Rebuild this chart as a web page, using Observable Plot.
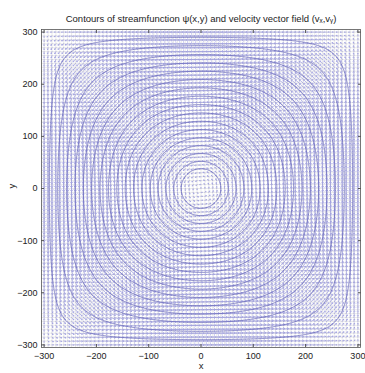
<!DOCTYPE html>
<html>
<head>
<meta charset="utf-8">
<script src="https://cdn.jsdelivr.net/npm/d3@7"></script>
<script src="https://cdn.jsdelivr.net/npm/@observablehq/plot@0.6"></script>
<style>
  html, body { margin: 0; padding: 0; background: #fff; }
  #chart svg { display: block; }
</style>
</head>
<body>
<div id="chart"></div>
<script>
// ---- data ----
const titleText = "Contours of streamfunction \u03C8(x,y) and velocity vector field (v\u2093,v\u1D67)";
const xTicks = [-300, -200, -100, 0, 100, 200, 300];
const yTicks = [-300, -200, -100, 0, 100, 200, 300];
// half-width (on the axes) of each drawn contour
const contourRadii = [290, 274, 257, 241, 225, 209, 193, 177, 161, 145, 129, 113, 97, 82, 67, 52, 38];
// domain half-size of the field
const L = 300;
// grid of the velocity field samples
const gridStep = 7.5;

// streamfunction of a single square cell vortex
const psi = (x, y) => Math.cos(Math.PI * x / (2 * L)) * Math.cos(Math.PI * y / (2 * L));
const levels = contourRadii.map(r => psi(r, 0)).sort((a, b) => a - b);

const gridVals = d3.range(-L, L + 0.001, gridStep);
const field = [];
for (const x of gridVals) for (const y of gridVals) {
  const k = Math.PI / (2 * L);
  const u = -Math.cos(k * x) * Math.sin(k * y);
  const v = Math.sin(k * x) * Math.cos(k * y);
  field.push({x, y, speed: Math.hypot(u, v), rot: Math.atan2(u, v) * 180 / Math.PI});
}

const chart = Plot.plot({
  width: 365,
  height: 373,
  marginLeft: 41,
  marginRight: 5,
  marginTop: 29,
  marginBottom: 26,
  style: {fontFamily: "'Liberation Sans', Arial, sans-serif", fontSize: "9px", color: "#222", background: "#fff"},
  x: {domain: [-305, 305], ticks: xTicks, label: null},
  y: {domain: [-305, 305], ticks: yTicks, label: null},
  length: {type: "identity"},
  marks: [
    Plot.gridX(gridVals, {stroke: "#c4c4c4", strokeOpacity: 0.6, strokeWidth: 0.6}),
    Plot.gridY(gridVals, {stroke: "#c4c4c4", strokeOpacity: 0.6, strokeWidth: 0.6}),
    Plot.vector(field, {
      x: "x", y: "y", rotate: "rot",
      length: d => 1 + 6 * d.speed,
      anchor: "start",
      stroke: "#9c9cdc", strokeWidth: 0.8, strokeOpacity: 0.85
    }),
    Plot.contour({
      x1: -L, x2: L, y1: -L, y2: L,
      value: psi,
      pixelSize: 1,
      thresholds: levels,
      fill: "none",
      stroke: "#5a5ab4",
      strokeWidth: 0.9,
      strokeOpacity: 0.8
    }),
    Plot.frame({stroke: "#555", strokeWidth: 0.8}),
    Plot.axisX(xTicks, {anchor: "bottom", tickSize: 0, tickPadding: 5, fill: "#222"}),
    Plot.axisY(yTicks, {anchor: "left", tickSize: 0, tickPadding: 4, fill: "#222"}),
    Plot.axisX(xTicks, {anchor: "bottom", tickSize: -3, text: null, stroke: "#555"}),
    Plot.axisX(xTicks, {anchor: "top", tickSize: -3, text: null, stroke: "#555"}),
    Plot.axisY(yTicks, {anchor: "left", tickSize: -3, text: null, stroke: "#555"}),
    Plot.axisY(yTicks, {anchor: "right", tickSize: -3, text: null, stroke: "#555"}),
    Plot.text(["x"], {frameAnchor: "bottom", dy: 21, fontSize: 9.5, fill: "#222"}),
    Plot.text(["y"], {frameAnchor: "left", dx: -30, rotate: -90, fontSize: 9.5, fill: "#222"}),
    Plot.text([titleText], {frameAnchor: "top", dy: -14, fontSize: 9.5, fill: "#222"})
  ]
});
document.getElementById("chart").appendChild(chart);
</script>
</body>
</html>
